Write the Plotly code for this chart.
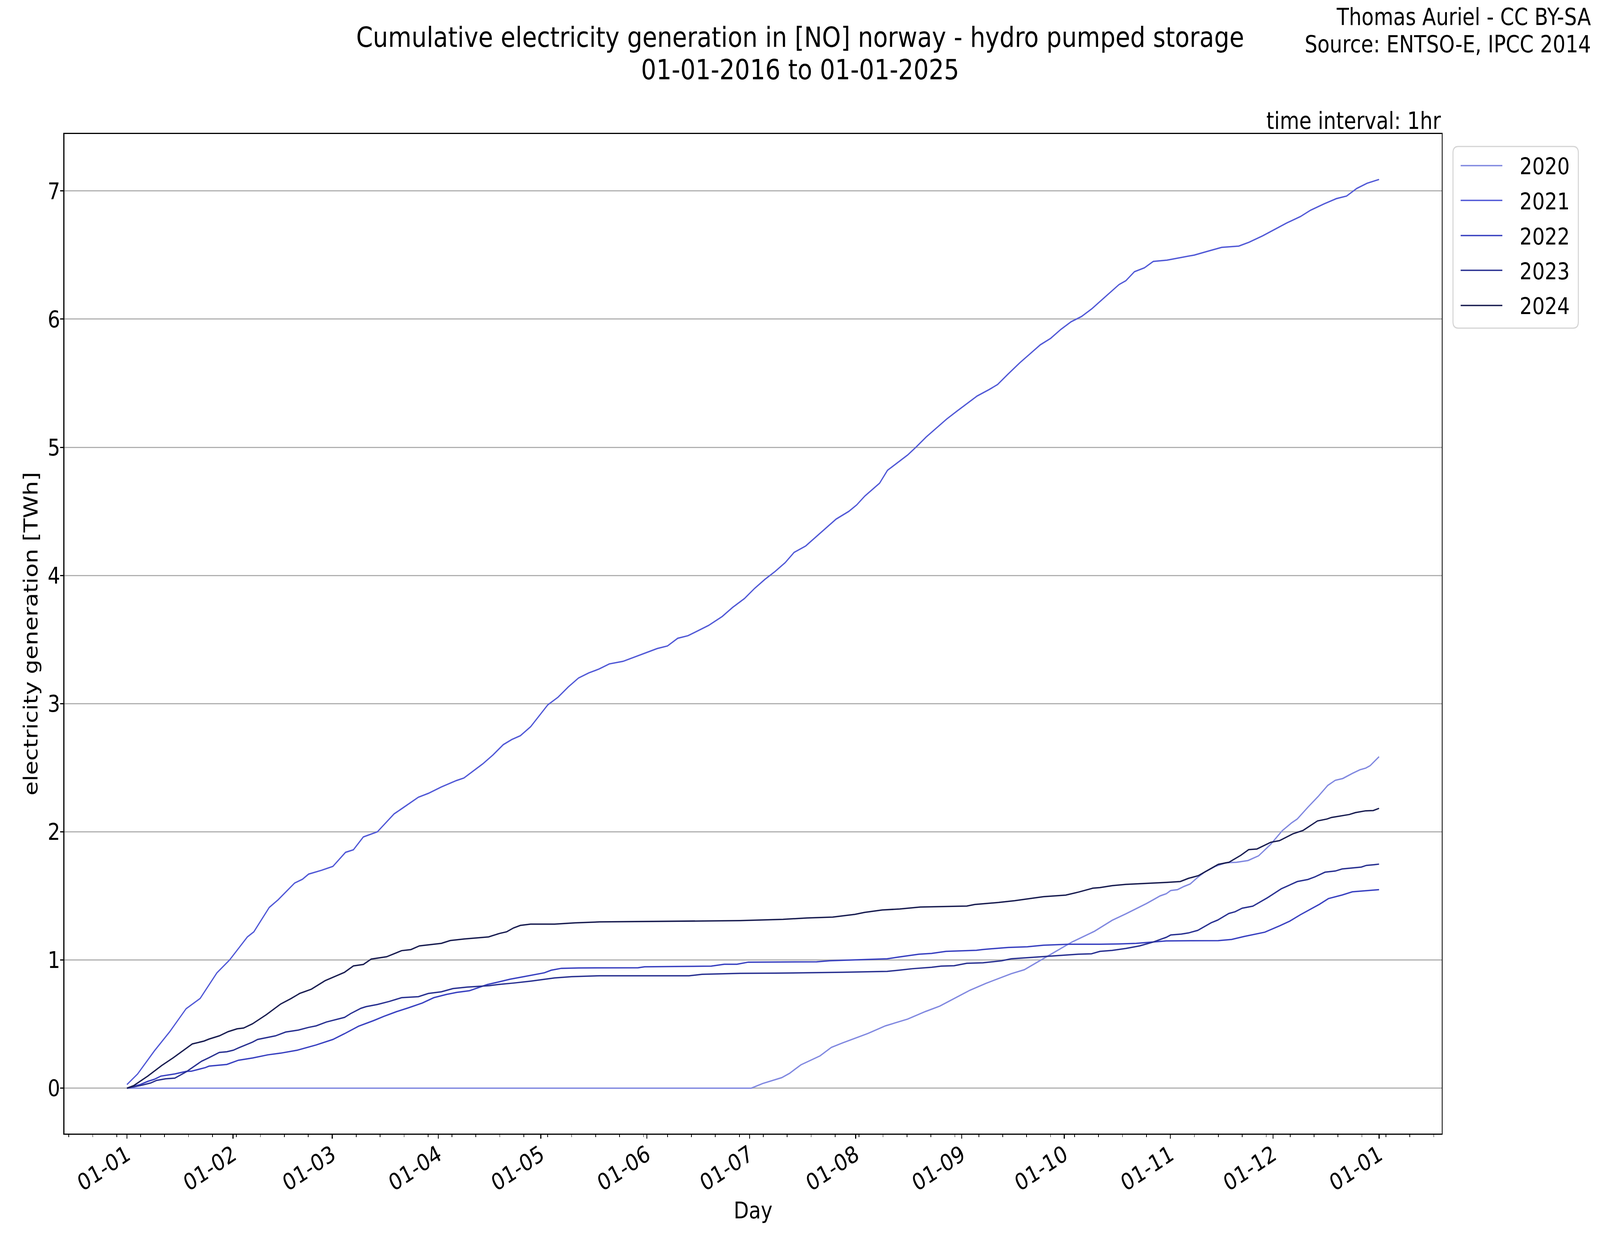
import pandas as pd
import plotly.graph_objects as go

# ---------------- data (day offset from 1 Jan, cumulative TWh) ----------------
years = ["2020", "2021", "2022", "2023", "2024"]
colors = ["#8088e0", "#5058d6", "#3840c0", "#283090", "#181c50"]

days_2020 = [0, 182.5, 185.8, 191.4, 193.7, 197, 202.6, 205.9, 209.1, 216.6, 221.7, 228.2, 233.4, 237.6,
             246.4, 251.1, 258.5, 262.3, 268.8, 276.3, 282.8, 288, 292, 295, 298, 300, 302, 303.8, 305.1,
             307.1, 309, 310.8, 312.9, 315.1, 318.2, 321.2, 324.3, 327.7, 330.8, 334.3, 337.7, 340.4,
             342.1, 345.2, 348.2, 351, 353.2, 355.4, 358.2, 360.4, 362.1, 363.4, 366]
vals_2020 = [0, 0, 0.036, 0.082, 0.116, 0.182, 0.252, 0.318, 0.352, 0.427, 0.486, 0.539, 0.598, 0.64,
             0.764, 0.818, 0.893, 0.924, 1.025, 1.141, 1.224, 1.31, 1.36, 1.40, 1.44, 1.47, 1.50, 1.517, 1.542,
             1.549, 1.574, 1.593, 1.643, 1.687, 1.731, 1.759, 1.762, 1.776, 1.813, 1.902, 2.009, 2.069,
             2.1, 2.192, 2.276, 2.362, 2.402, 2.416, 2.456, 2.484, 2.497, 2.516, 2.586]

days_2021 = [0, 3.1, 8.0, 12.5, 17.3, 19.1, 21.4, 26.3, 30, 35.2, 37.1, 41.6, 44.2, 49, 51.3, 53.1, 56.9,
             60.2, 63.9, 66.2, 69.1, 73.2, 78.1, 80.3, 85.2, 88.1, 91.9, 96.3, 98.5, 101, 104, 107, 110,
             112.5, 115, 118, 121, 123, 126, 129, 132, 135, 138, 141, 145, 148, 151, 155, 158, 161, 164,
             167, 170, 174, 177, 180.5, 183.5, 186.5, 189.4, 192.4, 195, 198.4, 201.4, 204.4, 207.3, 211,
             213.3, 215.7, 217.8, 220, 222.3, 225.2, 228.2, 230.6, 233.6, 236.6, 239.6, 242.5, 245.5,
             248.5, 252, 254.5, 257.5, 261, 264, 267, 270, 273, 276, 279, 282, 285, 288, 290, 292, 294.5,
             297.4, 300, 304, 308, 312, 316, 320, 325, 328, 332, 335.6, 339, 343, 346, 350, 353.5, 356.5,
             359.5, 362.5, 366]
vals_2021 = [0.028, 0.11, 0.29, 0.44, 0.62, 0.656, 0.70, 0.90, 1.0, 1.18, 1.22, 1.41, 1.47, 1.60, 1.63, 1.67,
             1.70, 1.73, 1.84, 1.86, 1.96, 2.0, 2.14, 2.18, 2.27, 2.30, 2.35, 2.40, 2.42, 2.47, 2.53, 2.6,
             2.68, 2.72, 2.75, 2.82, 2.92, 2.99, 3.05, 3.13, 3.2, 3.24, 3.27, 3.31, 3.33, 3.36, 3.39, 3.43,
             3.45, 3.51, 3.53, 3.57, 3.61, 3.68, 3.75, 3.82, 3.9, 3.97, 4.03, 4.1, 4.18, 4.23, 4.3, 4.37,
             4.44, 4.5, 4.55, 4.62, 4.67, 4.72, 4.82, 4.88, 4.94, 5.0, 5.08, 5.15, 5.22, 5.28, 5.34, 5.4,
             5.45, 5.49, 5.57, 5.66, 5.73, 5.8, 5.85, 5.92, 5.98, 6.02, 6.08, 6.15, 6.22, 6.27, 6.3, 6.37,
             6.4, 6.45, 6.46, 6.48, 6.5, 6.53, 6.56, 6.57, 6.6, 6.65, 6.7, 6.75, 6.8, 6.85, 6.9, 6.94,
             6.96, 7.02, 7.06, 7.09]

days_2022 = [0, 3.9, 6.1, 8.0, 9.9, 14.0, 17.3, 18.8, 22.9, 24.0, 29.2, 32.6, 36.7, 41.2, 44.9, 49.8, 55.3,
             60.2, 63.6, 67.7, 72.1, 75.1, 78.9, 82.2, 86.3, 89.7, 93.4, 96.4, 100.1, 102.3, 105.3, 108.9,
             112, 116, 120, 122, 124, 127, 132, 138.2, 149.4, 151.3, 170.8, 174.6, 178.3, 181.6, 201.6,
             205.4, 222.2, 225.4, 228.7, 231.5, 235.2, 239.4, 248.3, 250.2, 257.6, 263.2, 267.9, 272.5,
             275.3, 284.4, 290, 295, 300, 303.8, 319, 322.9, 326.5, 329.9, 332.6, 337.0, 339.9, 343.0,
             345.6, 348.6, 351.2, 355.2, 358.2, 360.8, 366]
vals_2022 = [0, 0.028, 0.053, 0.069, 0.094, 0.111, 0.131, 0.132, 0.160, 0.172, 0.185, 0.218, 0.235, 0.26,
             0.273, 0.296, 0.337, 0.38, 0.425, 0.483, 0.527, 0.56, 0.598, 0.626, 0.664, 0.706, 0.731, 0.747,
             0.76, 0.78, 0.808, 0.83, 0.85, 0.87, 0.89, 0.90, 0.92, 0.935, 0.938, 0.939, 0.939, 0.947,
             0.952, 0.967, 0.967, 0.983, 0.986, 0.994, 1.009, 1.022, 1.033, 1.045, 1.051, 1.067, 1.076,
             1.082, 1.098, 1.103, 1.115, 1.121, 1.123, 1.123, 1.125, 1.13, 1.14, 1.149, 1.151, 1.16,
             1.183, 1.202, 1.217, 1.267, 1.303, 1.353, 1.391, 1.435, 1.479, 1.507, 1.532, 1.538, 1.549]

days_2023 = [0, 3.9, 6.9, 8.7, 11.3, 14.0, 17.3, 21.8, 24.0, 27.0, 29.2, 31.1, 32.6, 36.7, 38.2, 43.4, 46.4,
             50.1, 53.1, 55.3, 58.3, 63.6, 65.4, 68.4, 69.9, 73.2, 76.6, 80.3, 85.2, 88.1, 91.9, 95.3, 99.4,
             106, 108.9, 113, 118, 121, 125, 130, 135, 138.2, 164.3, 168.1, 179.2, 189.5, 209.1, 222.2,
             225.9, 229.6, 235.2, 238.0, 241.8, 245.5, 250.2, 255.7, 258.5, 263.2, 272.5, 278.1, 281.9,
             284.4, 288, 292, 296, 300, 302, 303.8, 305.1, 308.2, 310.3, 313, 316.9, 318.8, 322.1, 323.9,
             326, 329.1, 333.4, 337.4, 342.1, 345.2, 347.3, 350.2, 353.2, 355.2, 360.8, 362.3, 364.7, 366]
vals_2023 = [0, 0.02, 0.04, 0.061, 0.073, 0.078, 0.127, 0.21, 0.238, 0.279, 0.284, 0.296, 0.314, 0.359, 0.38,
             0.408, 0.438, 0.453, 0.474, 0.486, 0.516, 0.552, 0.582, 0.623, 0.636, 0.653, 0.676, 0.706,
             0.714, 0.739, 0.752, 0.777, 0.788, 0.80, 0.81, 0.82, 0.835, 0.845, 0.86, 0.87, 0.875, 0.877,
             0.877, 0.888, 0.896, 0.897, 0.904, 0.911, 0.921, 0.932, 0.943, 0.952, 0.955, 0.974, 0.978,
             0.994, 1.009, 1.017, 1.033, 1.045, 1.048, 1.067, 1.075, 1.09, 1.11, 1.14, 1.16, 1.177, 1.195,
             1.202, 1.211, 1.231, 1.29, 1.311, 1.363, 1.376, 1.404, 1.42, 1.486, 1.555, 1.612, 1.628,
             1.649, 1.685, 1.694, 1.71, 1.725, 1.738, 1.744, 1.748]

days_2024 = [0, 2.0, 6.1, 10.2, 13.6, 19.1, 22.5, 24, 27, 29.6, 32.2, 34.1, 36.7, 40.8, 44.9, 47.9, 50.5,
             53.9, 57.9, 63.6, 66.2, 69.1, 71.4, 75.9, 80.3, 83, 85.5, 91.9, 94.5, 98.6, 105.7, 108.9, 111,
             113, 115, 118, 125, 131, 138.2, 163.4, 179.2, 191.8, 198.8, 206.3, 212.8, 215.6, 220.8, 225.9,
             231.9, 245.5, 247.8, 254.8, 259.5, 267.9, 274.4, 278.2, 282.3, 284.4, 288, 292, 296, 300,
             303.8, 307.9, 310.3, 313.2, 315.1, 319.0, 322.1, 325.6, 327.9, 330.3, 334.3, 336.9, 340.8,
             343.8, 348.0, 350.8, 352.1, 355.2, 357.3, 359.1, 362.1, 364.3, 366]
vals_2024 = [0, 0.02, 0.094, 0.177, 0.238, 0.345, 0.367, 0.383, 0.408, 0.441, 0.463, 0.469, 0.502, 0.574,
             0.656, 0.698, 0.739, 0.772, 0.838, 0.904, 0.954, 0.965, 1.007, 1.025, 1.073, 1.081, 1.11,
             1.13, 1.152, 1.164, 1.18, 1.207, 1.22, 1.25, 1.27, 1.28, 1.28, 1.29, 1.297, 1.304, 1.307,
             1.317, 1.328, 1.335, 1.356, 1.371, 1.39, 1.398, 1.413, 1.421, 1.433, 1.449, 1.463, 1.494,
             1.506, 1.53, 1.56, 1.565, 1.58, 1.59, 1.595, 1.598, 1.605, 1.612, 1.637, 1.658, 1.687, 1.746,
             1.762, 1.817, 1.861, 1.866, 1.918, 1.931, 1.984, 2.011, 2.085, 2.1, 2.112, 2.125, 2.135,
             2.15, 2.164, 2.166, 2.183]

all_days = [days_2020, days_2021, days_2022, days_2023, days_2024]
all_vals = [vals_2020, vals_2021, vals_2022, vals_2023, vals_2024]

base = pd.Timestamp("2016-01-01")

# ---------------- figure ----------------
W, H = 4800, 3200
L, R, T, B = 193, 4325, 343, 2902   # plot area in px
FONT = "DejaVu Sans"
FS = 59


def px(X, Y):
    return (X - L) / (R - L), (B - Y) / (B - T)


fig = go.Figure()
for yr, c, d, v in zip(years, colors, all_days, all_vals):
    assert len(d) == len(v), yr
    x = base + pd.to_timedelta(d, unit="D")
    fig.add_trace(go.Scatter(x=x, y=v, mode="lines", name=yr, showlegend=False,
                             line=dict(color=c, width=3.5)))

xmin = base - pd.Timedelta(days=366 * 0.05)
xmax = base + pd.Timedelta(days=366 * 1.05)
vmax = max(max(v) for v in all_vals)
ymin, ymax = -0.05 * vmax, vmax * 1.05

fig.update_layout(
    width=W, height=H,
    margin=dict(l=L, r=W - R, t=T, b=H - B, pad=0),
    paper_bgcolor="white", plot_bgcolor="white",
    font=dict(family=FONT, size=FS, color="black"),
    showlegend=False,
)

fig.update_xaxes(
    range=[xmin, xmax], type="date",
    tick0="2016-01-01", dtick="M1", tickformat="%d-%m", tickangle=-30,
    ticks="outside", ticklen=10, tickwidth=2.5, tickcolor="black",
    showline=True, linewidth=2.5, linecolor="black", mirror=True,
    showgrid=False, zeroline=False, ticklabelstandoff=-16,
    minor=dict(ticks="outside", ticklen=6, tickwidth=2, tickcolor="black",
               tick0="2016-01-05", dtick=7 * 86400000, showgrid=False),
)
fig.update_yaxes(
    range=[ymin, ymax], tick0=0, dtick=1,
    ticks="outside", ticklen=10, tickwidth=2.5, tickcolor="black",
    showline=True, linewidth=2.5, linecolor="black", mirror=True,
    showgrid=True, gridcolor="#b0b0b0", gridwidth=2.5, zeroline=False, ticklabelstandoff=-12,
)

ann = []
x, y = px(2400, 95)
ann.append(dict(text="Cumulative electricity generation in [NO] norway - hydro pumped storage",
                x=x, y=y, xanchor="center", yanchor="middle", font=dict(size=72)))
x, y = px(2400, 178)
ann.append(dict(text="01-01-2016 to 01-01-2025", x=x, y=y, xanchor="center", yanchor="middle",
                font=dict(size=72)))
x, y = px(4775, 43)
ann.append(dict(text="Thomas Auriel - CC BY-SA", x=x, y=y, xanchor="right", yanchor="middle",
                font=dict(size=60)))
x, y = px(4775, 113)
ann.append(dict(text="Source: ENTSO-E, IPCC 2014", x=x, y=y, xanchor="right", yanchor="middle",
                font=dict(size=60)))
x, y = px(R, 309)
ann.append(dict(text="time interval: 1hr", x=x, y=y, xanchor="right", yanchor="middle",
                font=dict(size=60)))
x, y = px((L + R) / 2, 3098)
ann.append(dict(text="Day", x=x, y=y, xanchor="center", yanchor="middle", font=dict(size=FS)))
x, y = px(92, (T + B) / 2)
ann.append(dict(text="electricity generation [TWh]", x=x, y=y, xanchor="center", yanchor="middle",
                textangle=-90, font=dict(size=FS)))

# ---------------- legend (drawn as a framed box like matplotlib's) ----------------
shapes = []
LX0, LY0, LX1, LY1, RAD = 4359, 375, 4735, 840, 16
rx, ry = RAD / (R - L), RAD / (B - T)
x0, y1 = px(LX0, LY0)
x1, y0 = px(LX1, LY1)
path = (f"M{x0 + rx},{y1} L{x1 - rx},{y1} Q{x1},{y1} {x1},{y1 - ry} "
        f"L{x1},{y0 + ry} Q{x1},{y0} {x1 - rx},{y0} L{x0 + rx},{y0} Q{x0},{y0} {x0},{y0 + ry} "
        f"L{x0},{y1 - ry} Q{x0},{y1} {x0 + rx},{y1} Z")
shapes.append(dict(type="path", path=path, xref="paper", yref="paper",
                   line=dict(color="#d4d4d4", width=3), fillcolor="rgba(255,255,255,0.8)", layer="above"))
row_y = [424, 513, 603, 692, 782]
for yr, c, ry_px in zip(years, colors, row_y):
    xa, ya = px(4382, ry_px)
    xb, _ = px(4507, ry_px)
    shapes.append(dict(type="line", xref="paper", yref="paper", x0=xa, x1=xb, y0=ya, y1=ya,
                       line=dict(color=c, width=3.5), layer="above"))
    xt, yt = px(4557, ry_px + 2)
    ann.append(dict(text=yr, x=xt, y=yt, xanchor="left", yanchor="middle", font=dict(size=FS)))

for a in ann:
    a.update(xref="paper", yref="paper", showarrow=False)
fig.update_layout(annotations=ann, shapes=shapes)

# Fit the 4800x3200 figure to whatever viewport the page is opened in.
post = """
var W = 4800, H = 3200;
document.documentElement.style.overflow = 'hidden';
document.body.style.margin = '0';
document.body.style.overflow = 'hidden';
var gd = document.getElementById('{plot_id}');
var kx = window.innerWidth / W, ky = window.innerHeight / H;
var p = gd.parentElement;
p.style.width = (W * kx) + 'px';
p.style.height = (H * ky) + 'px';
p.style.overflow = 'hidden';
gd.style.transformOrigin = '0 0';
gd.style.transform = 'scale(' + kx + ',' + ky + ')';
"""
fig.write_html("out.html", post_script=post, config={"displayModeBar": False})
